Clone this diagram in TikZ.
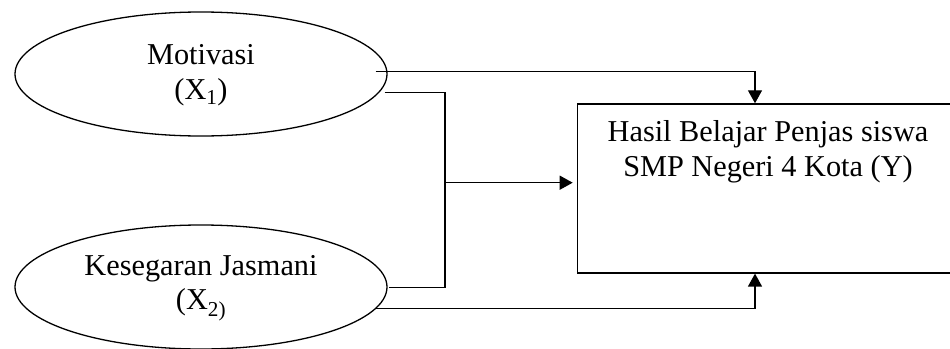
\documentclass[tikz,border=0pt]{standalone}
\usepackage{fontspec}
\setmainfont{Liberation Serif}
\usetikzlibrary{arrows.meta,calc,shapes.geometric}
\begin{document}
\begin{tikzpicture}[x=1pt,y=-1pt,line width=1.3pt,
  txt/.style={align=center,inner sep=0pt,font=\fontsize{30.3}{34.5}\selectfont},
  oval/.style={draw,ellipse,minimum width=372pt,minimum height=124pt,inner sep=0pt},
  outbox/.style={draw,rectangle,inner sep=0pt,anchor=north west,minimum width=384pt,minimum height=169pt},
  tip/.style={-{Triangle[width=14pt,length=13pt]}}]
\clip (0,0) rectangle (950,348);
% ovals
\node[oval] (e1) at (201,74) {};
\node[txt] (t1) at (201,75) {Motivasi\\(X\textsubscript{1})};
\node[oval] (e2) at (201,287) {};
\node[txt] (t2) at (201,288) {Kesegaran Jasmani\\(X\textsubscript{2)}};
% target box
\node[outbox] (y) at (576.7,103.3) {};
\node[txt] (ty) at (768,152) {Hasil Belajar Penjas siswa\\SMP Negeri 4 Kota (Y)};
% connectors
\coordinate (a1) at ($(e1.east)+(-12,-2.3)$);
\coordinate (b1) at ($(e1.east)+(-3,18.3)$);
\coordinate (b2) at ($(e2.east)+(1,0.3)$);
\coordinate (c1) at ($(e2.east)+(-12,21.3)$);
\coordinate (j1) at (445,92.3);
\coordinate (j2) at (445,287.3);
\coordinate (jm) at (445,182.7);
\coordinate (xt) at ($(y.north west)+(178.3,0)$);
\coordinate (xb) at ($(y.south west)+(178.3,0)$);
\draw[tip] (a1) -| (xt);
\draw (b1) -- (j1) -- (j2) -- (b2);
\draw[tip,shorten >=4pt] (jm) -- (jm -| y.west);
\draw[tip] (c1) -| (xb);
\end{tikzpicture}
\end{document}
